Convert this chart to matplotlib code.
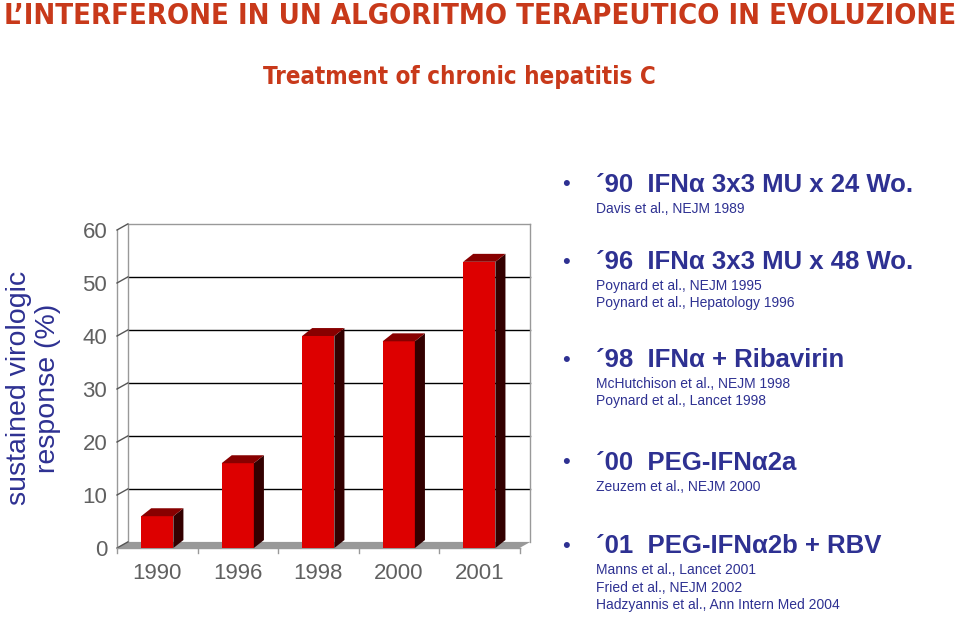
import matplotlib
matplotlib.use('Agg')
import matplotlib.pyplot as plt
from matplotlib.patches import Polygon

# data
years = ['1990', '1996', '1998', '2000', '2001']
svr = [6, 16, 40, 39, 54]
yticks = [0, 10, 20, 30, 40, 50, 60]

headers = ['\u00b490  IFN\u03b1 3x3 MU x 24 Wo.',
           '\u00b496  IFN\u03b1 3x3 MU x 48 Wo.',
           '\u00b498  IFN\u03b1 + Ribavirin',
           '\u00b400  PEG-IFN\u03b12a',
           '\u00b401  PEG-IFN\u03b12b + RBV']
refs = [['Davis et al., NEJM 1989'],
        ['Poynard et al., NEJM 1995', 'Poynard et al., Hepatology 1996'],
        ['McHutchison et al., NEJM 1998', 'Poynard et al., Lancet 1998'],
        ['Zeuzem et al., NEJM 2000'],
        ['Manns et al., Lancet 2001', 'Fried et al., NEJM 2002',
         'Hadzyannis et al., Ann Intern Med 2004']]
header_y = [185, 262, 360, 463, 546]

plt.rcParams['font.family'] = ['Liberation Sans', 'DejaVu Sans']

W, H = 960, 618
fig = plt.figure(figsize=(9.6, 6.18), dpi=100)

red = '#C8391A'
blue = '#2E3192'
grey = '#606060'

fig.text(480 / W, 1 - 16 / H, 'L\u2019INTERFERONE IN UN ALGORITMO TERAPEUTICO IN EVOLUZIONE',
         family='DejaVu Sans', fontstretch='condensed', weight='bold', fontsize=21,
         color=red, ha='center', va='center')
fig.text(459 / W, 1 - 77 / H, 'Treatment of chronic hepatitis C',
         family='DejaVu Sans', fontstretch='condensed', weight='bold', fontsize=17.3,
         color=red, ha='center', va='center')

# chart axes (front plane)
ax = fig.add_axes([117 / W, 1 - 548 / H, 413 / W, 318 / H])
xmax = 5.13
ax.set_xlim(0, xmax)
ax.set_ylim(0, 60)
for s in ax.spines.values():
    s.set_visible(False)
ax.patch.set_alpha(0)

dx, dy = 0.135, 1.15   # wall depth

# floor
ax.add_patch(Polygon([(0, 0), (5.0, 0), (5.0 + dx, dy), (dx, dy)], closed=True,
                     facecolor='#999999', edgecolor='none', clip_on=False, zorder=1))
# back wall grid
for v in yticks[1:]:
    ax.plot([dx, xmax], [v + dy, v + dy], color='black' if v < 60 else '#999999',
            lw=1, clip_on=False, zorder=1)
ax.plot([dx, dx], [dy, 60 + dy], color='#999999', lw=1, clip_on=False, zorder=1)
ax.plot([xmax, xmax], [dy, 60 + dy], color='#999999', lw=1, clip_on=False, zorder=1)
# front left axis with slanted ticks
ax.plot([0, 0], [0, 60], color='#999999', lw=1, clip_on=False, zorder=2)
for v in yticks:
    ax.plot([0, dx], [v, v + dy], color='#555555', lw=1, clip_on=False, zorder=2)
# front floor edge with category ticks
ax.plot([0, 5.0], [0, 0], color='#999999', lw=1, clip_on=False, zorder=2)
for i in range(6):
    ax.plot([i, i], [0, -1.0], color='#999999', lw=1, clip_on=False, zorder=2)

# bars
pos = [i + 0.5 for i in range(len(years))]
bw = 0.4
bdx, bdy = 0.125, 1.5
ax.bar(pos, svr, width=bw, color='#DD0000', zorder=3)
for x, v in zip(pos, svr):
    l, r = x - bw / 2, x + bw / 2
    ax.add_patch(Polygon([(r, 0), (r + bdx, bdy), (r + bdx, v + bdy), (r, v)],
                         closed=True, facecolor='#330000', edgecolor='none', zorder=3))
    ax.add_patch(Polygon([(l, v), (r, v), (r + bdx, v + bdy), (l + bdx, v + bdy)],
                         closed=True, facecolor='#880000', edgecolor='none', zorder=3))

ax.set_yticks(yticks)
ax.set_yticklabels([str(v) for v in yticks])
ax.set_xticks(pos)
ax.set_xticklabels(years)
ax.tick_params(axis='y', length=0, pad=7, labelsize=16, labelcolor=grey)
ax.tick_params(axis='x', length=0, pad=11, labelsize=16, labelcolor=grey)

fig.text(34 / W, 1 - 388 / H, 'sustained virologic\nresponse (%)', rotation=90,
         fontsize=20.5, color=blue, ha='center', va='center', linespacing=1.15,
         multialignment='center')

# right-hand list
for hy, htxt, rl in zip(header_y, headers, refs):
    fig.text(566 / W, 1 - hy / H, '\u2022', fontsize=16, color=blue, ha='center', va='center')
    fig.text(596 / W, 1 - hy / H, htxt, fontsize=18.5, weight='bold', color=blue,
             ha='left', va='center')
    for k, rt in enumerate(rl):
        fig.text(596 / W, 1 - (hy + 24 + 17.5 * k) / H, rt, fontsize=10, color=blue,
                 ha='left', va='center')

fig.savefig('out.png', dpi=100)
